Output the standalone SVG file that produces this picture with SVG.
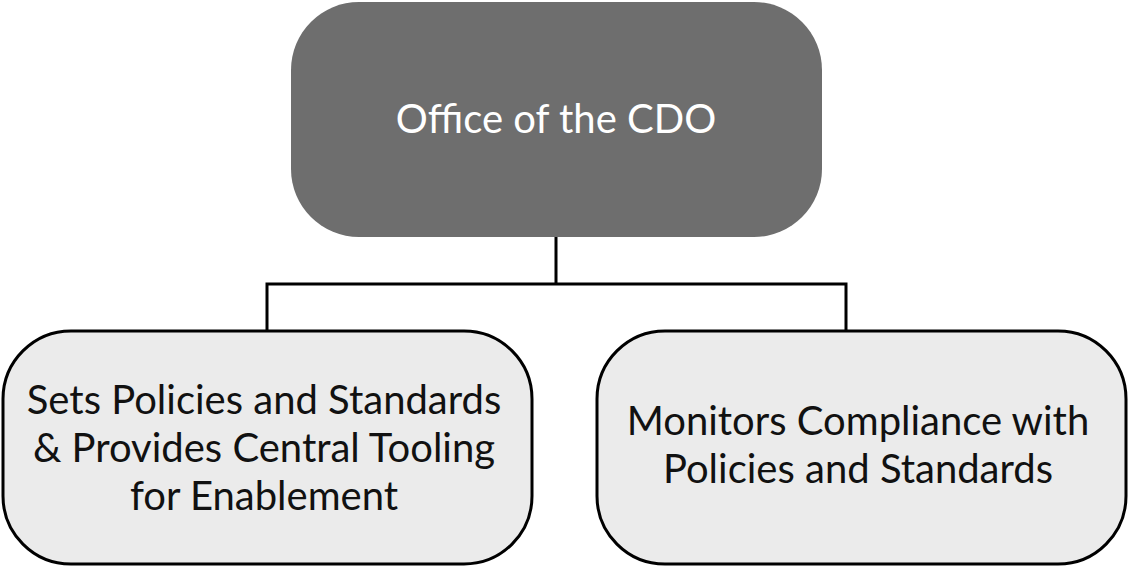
<svg xmlns="http://www.w3.org/2000/svg" width="1130" height="570" viewBox="0 0 1130 570">
<style>
.top{fill:#6e6e6e;stroke:none}
.box{fill:#ebebeb;stroke:#000;stroke-width:3}
.conn{fill:none;stroke:#000;stroke-width:3}
.tw{font-family:Lato,"Noto Sans",sans-serif;font-size:40px;fill:#fff;text-anchor:middle}
.tb{font-family:Lato,"Noto Sans",sans-serif;font-size:40px;fill:#111;text-anchor:middle}
</style>
<rect width="1130" height="570" fill="#fff"/>
<g id="connectors">
<path class="conn" d="M556 237 V284 M267 330 V284 H846 V330"/>
</g>
<g id="node-cdo">
<rect class="top" x="291" y="2" width="531" height="235" rx="68" ry="68"/>
<text class="tw" x="556" y="133">Office of the CDO</text>
</g>
<g id="node-sets">
<rect class="box" x="3" y="331" width="529" height="233" rx="68" ry="68"/>
<text class="tb" x="264" y="414">Sets Policies and Standards</text>
<text class="tb" x="264" y="462">&amp; Provides Central Tooling</text>
<text class="tb" x="264" y="510">for Enablement</text>
</g>
<g id="node-monitors">
<rect class="box" x="597" y="331" width="529" height="233" rx="68" ry="68"/>
<text class="tb" x="858" y="435">Monitors Compliance with</text>
<text class="tb" x="858" y="483">Policies and Standards</text>
</g>
</svg>
